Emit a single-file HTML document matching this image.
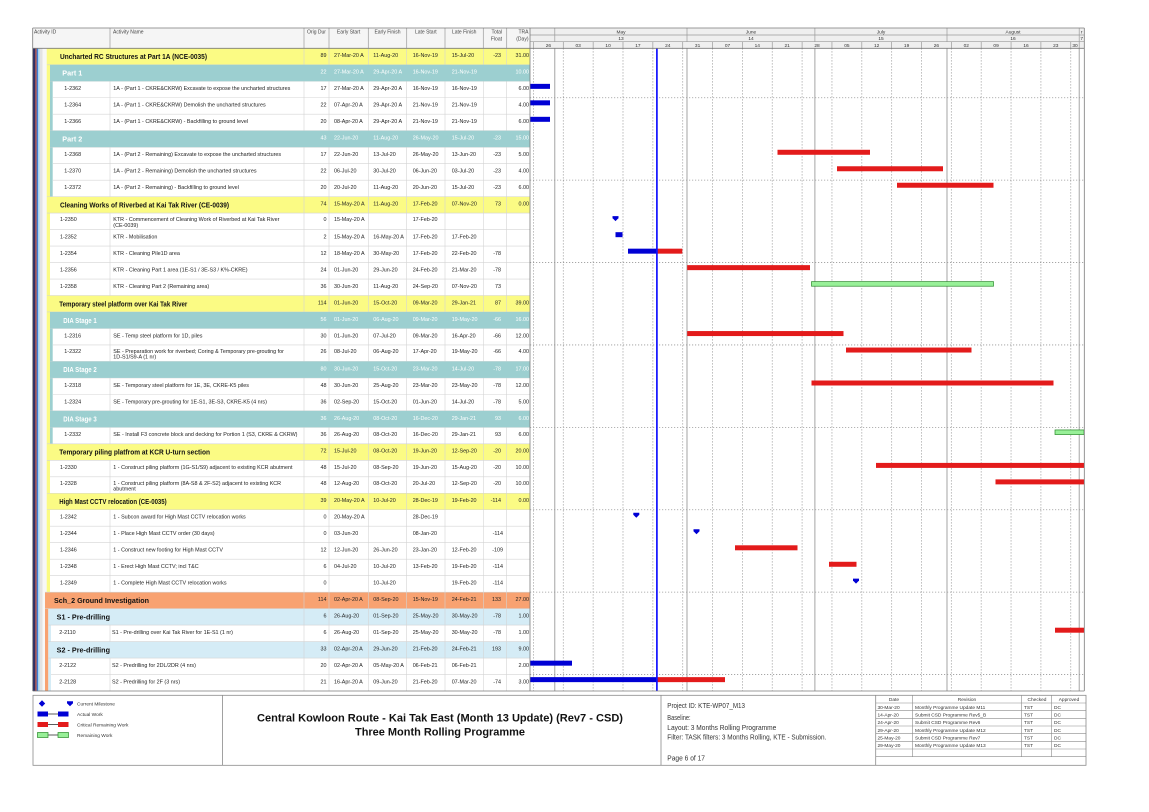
<!DOCTYPE html>
<html><head><meta charset="utf-8"><title>Three Month Rolling Programme</title>
<style>
html,body{margin:0;padding:0;background:#fff;width:1149px;height:812px;overflow:hidden}
svg{display:block}
text{font-family:"Liberation Sans",Arial,sans-serif}
.r{font-size:5.4px;fill:#222}
.e{text-anchor:end}
.c{text-anchor:middle}
.b{font-size:7.2px;font-weight:bold;fill:#111}
.w{fill:#fff}
.h{font-size:5px;fill:#444}
.t{font-size:4.8px;fill:#333}
.f{font-size:7.5px;fill:#333}
.s{font-size:4.8px;fill:#333}
</style></head><body>
<svg width="1149" height="812" viewBox="0 0 1149 812" xmlns="http://www.w3.org/2000/svg">
<rect width="1149" height="812" fill="#fff"/>

<!-- ===== FILLS (non-teal) ===== -->
<g>
<!-- left stripes -->
<rect x="33" y="48.3" width="2.3" height="642.72" fill="#2e2f63"/>
<rect x="35.3" y="48.3" width="1.4" height="642.72" fill="#a13b3b"/>
<rect x="36.7" y="48.3" width="1.4" height="642.72" fill="#3f80d2"/>
<rect x="38.1" y="48.3" width="1.5" height="642.72" fill="#a3d3ef"/>
<rect x="39.6" y="48.3" width="2.9" height="642.72" fill="#e3e3e3"/>
<rect x="42.5" y="48.3" width="4.2" height="642.72" fill="#f7f7f7"/>
<!-- group 1 yellow strip -->
<rect x="46.7" y="48.3" width="3.3" height="543.84" fill="#fbfb84"/>
<!-- yellow rows -->
<rect x="50" y="48.30" width="480" height="16.48" fill="#fbfb84"/>
<rect x="50" y="196.62" width="480" height="16.48" fill="#fbfb84"/>
<rect x="50" y="295.50" width="480" height="16.48" fill="#fbfb84"/>
<rect x="50" y="443.82" width="480" height="16.48" fill="#fbfb84"/>
<rect x="50" y="493.26" width="480" height="16.48" fill="#fbfb84"/>
<!-- teal strips -->
<rect x="50" y="64.78" width="2.7" height="131.84" fill="#9ccfd0"/>
<rect x="50" y="311.98" width="2.7" height="131.84" fill="#9ccfd0"/>
<!-- group 2 -->
<rect x="45" y="592.14" width="485" height="16.48" fill="#f8a271"/>
<rect x="45" y="608.62" width="3.3" height="82.4" fill="#f8a271"/>
<rect x="48.3" y="608.62" width="2.7" height="82.4" fill="#d5ecf6"/>
<rect x="51" y="608.62" width="479" height="16.48" fill="#d5ecf6"/>
<rect x="51" y="641.58" width="479" height="16.48" fill="#d5ecf6"/>
</g>

<!-- ===== TABLE GRID LINES ===== -->
<g stroke="#d4d4d4" stroke-width="0.6">
<line x1="304" y1="48.3" x2="304" y2="691"/>
<line x1="329" y1="48.3" x2="329" y2="691"/>
<line x1="368.3" y1="48.3" x2="368.3" y2="691"/>
<line x1="406.7" y1="48.3" x2="406.7" y2="691"/>
<line x1="445" y1="48.3" x2="445" y2="691"/>
<line x1="483.3" y1="48.3" x2="483.3" y2="691"/>
<line x1="506.7" y1="48.3" x2="506.7" y2="691"/>
<line x1="110" y1="81.26" x2="110" y2="130.70"/>
<line x1="110" y1="147.18" x2="110" y2="196.62"/>
<line x1="110" y1="213.10" x2="110" y2="295.50"/>
<line x1="110" y1="328.46" x2="110" y2="361.42"/>
<line x1="110" y1="377.90" x2="110" y2="410.86"/>
<line x1="110" y1="427.34" x2="110" y2="443.82"/>
<line x1="110" y1="460.30" x2="110" y2="493.26"/>
<line x1="110" y1="509.74" x2="110" y2="592.14"/>
<line x1="110" y1="625.10" x2="110" y2="641.58"/>
<line x1="110" y1="658.06" x2="110" y2="691.02"/>
<line x1="47" y1="64.78" x2="530" y2="64.78"/>
<line x1="50" y1="81.26" x2="530" y2="81.26"/>
<line x1="53" y1="97.74" x2="530" y2="97.74"/>
<line x1="53" y1="114.22" x2="530" y2="114.22"/>
<line x1="50" y1="130.70" x2="530" y2="130.70"/>
<line x1="50" y1="147.18" x2="530" y2="147.18"/>
<line x1="53" y1="163.66" x2="530" y2="163.66"/>
<line x1="53" y1="180.14" x2="530" y2="180.14"/>
<line x1="47" y1="196.62" x2="530" y2="196.62"/>
<line x1="47" y1="213.10" x2="530" y2="213.10"/>
<line x1="50" y1="229.58" x2="530" y2="229.58"/>
<line x1="50" y1="246.06" x2="530" y2="246.06"/>
<line x1="50" y1="262.54" x2="530" y2="262.54"/>
<line x1="50" y1="279.02" x2="530" y2="279.02"/>
<line x1="47" y1="295.50" x2="530" y2="295.50"/>
<line x1="47" y1="311.98" x2="530" y2="311.98"/>
<line x1="50" y1="328.46" x2="530" y2="328.46"/>
<line x1="53" y1="344.94" x2="530" y2="344.94"/>
<line x1="50" y1="361.42" x2="530" y2="361.42"/>
<line x1="50" y1="377.90" x2="530" y2="377.90"/>
<line x1="53" y1="394.38" x2="530" y2="394.38"/>
<line x1="50" y1="410.86" x2="530" y2="410.86"/>
<line x1="50" y1="427.34" x2="530" y2="427.34"/>
<line x1="47" y1="443.82" x2="530" y2="443.82"/>
<line x1="47" y1="460.30" x2="530" y2="460.30"/>
<line x1="50" y1="476.78" x2="530" y2="476.78"/>
<line x1="47" y1="493.26" x2="530" y2="493.26"/>
<line x1="47" y1="509.74" x2="530" y2="509.74"/>
<line x1="50" y1="526.22" x2="530" y2="526.22"/>
<line x1="50" y1="542.70" x2="530" y2="542.70"/>
<line x1="50" y1="559.18" x2="530" y2="559.18"/>
<line x1="50" y1="575.66" x2="530" y2="575.66"/>
<line x1="45" y1="592.14" x2="530" y2="592.14"/>
<line x1="45" y1="608.62" x2="530" y2="608.62"/>
<line x1="48" y1="625.10" x2="530" y2="625.10"/>
<line x1="48" y1="641.58" x2="530" y2="641.58"/>
<line x1="48" y1="658.06" x2="530" y2="658.06"/>
<line x1="51" y1="674.54" x2="530" y2="674.54"/>
</g>

<!-- ===== TEAL ROWS ===== -->
<g fill="#9ccfd0">
<rect x="50" y="64.78" width="480" height="16.48"/>
<rect x="50" y="130.70" width="480" height="16.48"/>
<rect x="50" y="311.98" width="480" height="16.48"/>
<rect x="50" y="361.42" width="480" height="16.48"/>
<rect x="50" y="410.86" width="480" height="16.48"/>
</g>

<!-- ===== HEADER ===== -->
<rect x="33" y="28" width="497" height="20.3" fill="#f5f5f5"/>
<rect x="530" y="28" width="554.3" height="20.3" fill="#efefef"/>
<g stroke="#9a9a9a" stroke-width="0.7">
<line x1="110" y1="28" x2="110" y2="48.3"/>
<line x1="304" y1="28" x2="304" y2="48.3"/>
<line x1="329" y1="28" x2="329" y2="48.3"/>
<line x1="368.3" y1="28" x2="368.3" y2="48.3"/>
<line x1="406.7" y1="28" x2="406.7" y2="48.3"/>
<line x1="445" y1="28" x2="445" y2="48.3"/>
<line x1="483.3" y1="28" x2="483.3" y2="48.3"/>
<line x1="506.7" y1="28" x2="506.7" y2="48.3"/>
<line x1="530" y1="35" x2="1084.3" y2="35"/>
<line x1="530" y1="41.7" x2="1084.3" y2="41.7"/>
<line x1="554.8" y1="28" x2="554.8" y2="41.7"/>
<line x1="687" y1="28" x2="687" y2="41.7"/>
<line x1="814.9" y1="28" x2="814.9" y2="41.7"/>
<line x1="947" y1="28" x2="947" y2="41.7"/>
<line x1="1079.2" y1="28" x2="1079.2" y2="48.3"/>
<line x1="533.45" y1="41.7" x2="533.45" y2="48.3"/>
<line x1="563.3" y1="41.7" x2="563.3" y2="48.3"/>
<line x1="593.15" y1="41.7" x2="593.15" y2="48.3"/>
<line x1="623" y1="41.7" x2="623" y2="48.3"/>
<line x1="652.85" y1="41.7" x2="652.85" y2="48.3"/>
<line x1="682.7" y1="41.7" x2="682.7" y2="48.3"/>
<line x1="712.55" y1="41.7" x2="712.55" y2="48.3"/>
<line x1="742.4" y1="41.7" x2="742.4" y2="48.3"/>
<line x1="772.25" y1="41.7" x2="772.25" y2="48.3"/>
<line x1="802.1" y1="41.7" x2="802.1" y2="48.3"/>
<line x1="831.95" y1="41.7" x2="831.95" y2="48.3"/>
<line x1="861.8" y1="41.7" x2="861.8" y2="48.3"/>
<line x1="891.65" y1="41.7" x2="891.65" y2="48.3"/>
<line x1="921.5" y1="41.7" x2="921.5" y2="48.3"/>
<line x1="951.35" y1="41.7" x2="951.35" y2="48.3"/>
<line x1="981.2" y1="41.7" x2="981.2" y2="48.3"/>
<line x1="1011.05" y1="41.7" x2="1011.05" y2="48.3"/>
<line x1="1040.9" y1="41.7" x2="1040.9" y2="48.3"/>
<line x1="1070.75" y1="41.7" x2="1070.75" y2="48.3"/>
</g>
<g class="h">
<text x="34" y="33.5">Activity ID</text>
<text x="113" y="33.5">Activity Name</text>
<text class="c" x="316.5" y="33.5" text-anchor="middle">Orig Dur</text>
<text x="348.6" y="33.5" text-anchor="middle">Early Start</text>
<text x="387.5" y="33.5" text-anchor="middle">Early Finish</text>
<text x="425.8" y="33.5" text-anchor="middle">Late Start</text>
<text x="464.2" y="33.5" text-anchor="middle">Late Finish</text>
<text x="502" y="33.5" text-anchor="end">Total</text>
<text x="502" y="40.5" text-anchor="end">Float</text>
<text x="528.5" y="33.5" text-anchor="end">TRA</text>
<text x="528.5" y="40.5" text-anchor="end">(Day)</text>
</g>
<g class="t" text-anchor="middle">
<text x="621" y="33.6">May</text>
<text x="751" y="33.6">June</text>
<text x="881" y="33.6">July</text>
<text x="1013" y="33.6">August</text>
<text x="1081.7" y="33.6">r</text>
<text x="621" y="40.2">13</text>
<text x="751" y="40.2">14</text>
<text x="881" y="40.2">15</text>
<text x="1013" y="40.2">16</text>
<text x="1081.7" y="40.2">7</text>
<text x="548.4" y="46.9">26</text>
<text x="578.2" y="46.9">03</text>
<text x="608.1" y="46.9">10</text>
<text x="637.9" y="46.9">17</text>
<text x="667.8" y="46.9">24</text>
<text x="697.6" y="46.9">31</text>
<text x="727.5" y="46.9">07</text>
<text x="757.3" y="46.9">14</text>
<text x="787.2" y="46.9">21</text>
<text x="817" y="46.9">28</text>
<text x="846.9" y="46.9">05</text>
<text x="876.7" y="46.9">12</text>
<text x="906.6" y="46.9">19</text>
<text x="936.4" y="46.9">26</text>
<text x="966.3" y="46.9">02</text>
<text x="996.1" y="46.9">09</text>
<text x="1026" y="46.9">16</text>
<text x="1055.8" y="46.9">23</text>
<text x="1075" y="46.9">30</text>
</g>

<!-- ===== GANTT GRID ===== -->
<g stroke="#9a9a9a" stroke-width="0.8" stroke-dasharray="1.2,1.8">
<line x1="533.45" y1="48.3" x2="533.45" y2="691"/>
<line x1="563.3" y1="48.3" x2="563.3" y2="691"/>
<line x1="593.15" y1="48.3" x2="593.15" y2="691"/>
<line x1="623" y1="48.3" x2="623" y2="691"/>
<line x1="652.85" y1="48.3" x2="652.85" y2="691"/>
<line x1="682.7" y1="48.3" x2="682.7" y2="691"/>
<line x1="712.55" y1="48.3" x2="712.55" y2="691"/>
<line x1="742.4" y1="48.3" x2="742.4" y2="691"/>
<line x1="772.25" y1="48.3" x2="772.25" y2="691"/>
<line x1="802.1" y1="48.3" x2="802.1" y2="691"/>
<line x1="831.95" y1="48.3" x2="831.95" y2="691"/>
<line x1="861.8" y1="48.3" x2="861.8" y2="691"/>
<line x1="891.65" y1="48.3" x2="891.65" y2="691"/>
<line x1="921.5" y1="48.3" x2="921.5" y2="691"/>
<line x1="951.35" y1="48.3" x2="951.35" y2="691"/>
<line x1="981.2" y1="48.3" x2="981.2" y2="691"/>
<line x1="1011.05" y1="48.3" x2="1011.05" y2="691"/>
<line x1="1040.9" y1="48.3" x2="1040.9" y2="691"/>
<line x1="1070.75" y1="48.3" x2="1070.75" y2="691"/>
<line x1="530" y1="97.74" x2="1084" y2="97.74"/>
<line x1="530" y1="180.14" x2="1084" y2="180.14"/>
<line x1="530" y1="262.54" x2="1084" y2="262.54"/>
<line x1="530" y1="344.94" x2="1084" y2="344.94"/>
<line x1="530" y1="427.34" x2="1084" y2="427.34"/>
<line x1="530" y1="509.74" x2="1084" y2="509.74"/>
<line x1="530" y1="592.14" x2="1084" y2="592.14"/>
<line x1="530" y1="674.54" x2="1084" y2="674.54"/>
</g>
<g stroke="#9a9a9a" stroke-width="0.9">
<line x1="554.8" y1="48.3" x2="554.8" y2="691"/>
<line x1="687" y1="48.3" x2="687" y2="691"/>
<line x1="814.9" y1="48.3" x2="814.9" y2="691"/>
<line x1="947" y1="48.3" x2="947" y2="691"/>
<line x1="1079.2" y1="48.3" x2="1079.2" y2="691"/>
</g>

<!-- ===== BARS ===== -->
<g fill="#0000d4">
<rect x="530" y="83.86" width="20" height="5"/>
<rect x="530" y="100.34" width="20" height="5"/>
<rect x="530" y="116.82" width="20" height="5"/>
<rect x="615.5" y="232.18" width="7" height="5"/>
<rect x="628" y="248.66" width="28.9" height="5"/>
<rect x="530" y="660.66" width="42" height="5"/>
<rect x="530" y="677.14" width="126.9" height="5"/>
<path d="M612.5,216.1h6v2l-3,3l-3,-3z"/>
<path d="M633.3,512.74h6v2l-3,3l-3,-3z"/>
<path d="M693.5,529.22h6v2l-3,3l-3,-3z"/>
<path d="M853,578.66h6v2l-3,3l-3,-3z"/>
</g>
<g fill="#e31b1b">
<rect x="777.5" y="149.78" width="92.5" height="5"/>
<rect x="837" y="166.26" width="106" height="5"/>
<rect x="897" y="182.74" width="96.5" height="5"/>
<rect x="656.9" y="248.66" width="25.4" height="5"/>
<rect x="687.2" y="265.14" width="122.8" height="5"/>
<rect x="687.2" y="331.06" width="156.3" height="5"/>
<rect x="846" y="347.54" width="125.5" height="5"/>
<rect x="811.5" y="380.5" width="242" height="5"/>
<rect x="876" y="462.9" width="208" height="5"/>
<rect x="995.5" y="479.38" width="88.5" height="5"/>
<rect x="735" y="545.3" width="62.5" height="5"/>
<rect x="829" y="561.78" width="27.5" height="5"/>
<rect x="1055" y="627.7" width="29" height="5"/>
<rect x="656.9" y="677.14" width="68.1" height="5"/>
</g>
<g fill="#98f098" stroke="#2a8a2a" stroke-width="0.7">
<rect x="811.5" y="281.62" width="182" height="4.6"/>
<rect x="1055" y="429.94" width="29" height="4.6"/>
</g>
<line x1="656.9" y1="48.3" x2="656.9" y2="691" stroke="#1010ff" stroke-width="1.7"/>

<!-- ===== BORDERS ===== -->
<g stroke="#7a7a7a" stroke-width="0.8" fill="none">
<line x1="32.7" y1="28" x2="1084.3" y2="28"/>
<line x1="32.7" y1="48.3" x2="1084.3" y2="48.3"/>
<line x1="32.7" y1="691" x2="1084.3" y2="691"/>
<line x1="32.7" y1="28" x2="32.7" y2="691"/>
<line x1="530" y1="28" x2="530" y2="691"/>
<line x1="1084.3" y1="28" x2="1084.3" y2="691"/>
</g>

<!-- ===== TEXT ===== -->
<g class="r">
<!-- row 0 -->
<text class="b" x="60" y="59.1" textLength="147" lengthAdjust="spacingAndGlyphs">Uncharted RC Structures at Part 1A (NCE-0035)</text>
<text x="326.5" y="57.2" text-anchor="end">89</text><text x="334" y="57.2">27-Mar-20 A</text><text x="373.3" y="57.2">11-Aug-20</text><text x="412.7" y="57.2">16-Nov-19</text><text x="451.7" y="57.2">15-Jul-20</text><text x="501" y="57.2" text-anchor="end">-23</text><text x="529" y="57.2" text-anchor="end">31.00</text>
<!-- row 1 teal -->
<g class="w">
<text class="b w" x="62.3" y="75.58">Part 1</text>
<text x="326.5" y="73.68" text-anchor="end">22</text><text x="334" y="73.68">27-Mar-20 A</text><text x="373.3" y="73.68">29-Apr-20 A</text><text x="412.7" y="73.68">16-Nov-19</text><text x="451.7" y="73.68">21-Nov-19</text><text x="529" y="73.68" text-anchor="end">10.00</text>
</g>
<!-- row 2 -->
<text x="64.3" y="90.16">1-2362</text><text x="113.3" y="90.16">1A - (Part 1 - CKRE&amp;CKRW) Excavate to expose the uncharted structures</text><text x="326.5" y="90.16" text-anchor="end">17</text><text x="334" y="90.16">27-Mar-20 A</text><text x="373.3" y="90.16">29-Apr-20 A</text><text x="412.7" y="90.16">16-Nov-19</text><text x="451.7" y="90.16">16-Nov-19</text><text x="529" y="90.16" text-anchor="end">6.00</text>
<!-- row 3 -->
<text x="64.3" y="106.64">1-2364</text><text x="113.3" y="106.64">1A - (Part 1 - CKRE&amp;CKRW) Demolish the uncharted structures</text><text x="326.5" y="106.64" text-anchor="end">22</text><text x="334" y="106.64">07-Apr-20 A</text><text x="373.3" y="106.64">29-Apr-20 A</text><text x="412.7" y="106.64">21-Nov-19</text><text x="451.7" y="106.64">21-Nov-19</text><text x="529" y="106.64" text-anchor="end">4.00</text>
<!-- row 4 -->
<text x="64.3" y="123.12">1-2366</text><text x="113.3" y="123.12">1A - (Part 1 - CKRE&amp;CKRW) - Backfilling to ground level</text><text x="326.5" y="123.12" text-anchor="end">20</text><text x="334" y="123.12">08-Apr-20 A</text><text x="373.3" y="123.12">29-Apr-20 A</text><text x="412.7" y="123.12">21-Nov-19</text><text x="451.7" y="123.12">21-Nov-19</text><text x="529" y="123.12" text-anchor="end">6.00</text>
<!-- row 5 teal -->
<g class="w">
<text class="b w" x="62.3" y="141.5">Part 2</text>
<text x="326.5" y="139.6" text-anchor="end">43</text><text x="334" y="139.6">22-Jun-20</text><text x="373.3" y="139.6">11-Aug-20</text><text x="412.7" y="139.6">26-May-20</text><text x="451.7" y="139.6">15-Jul-20</text><text x="501" y="139.6" text-anchor="end">-23</text><text x="529" y="139.6" text-anchor="end">15.00</text>
</g>
<!-- row 6 -->
<text x="64.3" y="156.08">1-2368</text><text x="113.3" y="156.08">1A - (Part 2 - Remaining) Excavate to expose the uncharted structures</text><text x="326.5" y="156.08" text-anchor="end">17</text><text x="334" y="156.08">22-Jun-20</text><text x="373.3" y="156.08">13-Jul-20</text><text x="412.7" y="156.08">26-May-20</text><text x="451.7" y="156.08">13-Jun-20</text><text x="501" y="156.08" text-anchor="end">-23</text><text x="529" y="156.08" text-anchor="end">5.00</text>
<!-- row 7 -->
<text x="64.3" y="172.56">1-2370</text><text x="113.3" y="172.56">1A - (Part 2 - Remaining) Demolish the uncharted structures</text><text x="326.5" y="172.56" text-anchor="end">22</text><text x="334" y="172.56">06-Jul-20</text><text x="373.3" y="172.56">30-Jul-20</text><text x="412.7" y="172.56">06-Jun-20</text><text x="451.7" y="172.56">03-Jul-20</text><text x="501" y="172.56" text-anchor="end">-23</text><text x="529" y="172.56" text-anchor="end">4.00</text>
<!-- row 8 -->
<text x="64.3" y="189.04">1-2372</text><text x="113.3" y="189.04">1A - (Part 2 - Remaining) - Backfilling to ground level</text><text x="326.5" y="189.04" text-anchor="end">20</text><text x="334" y="189.04">20-Jul-20</text><text x="373.3" y="189.04">11-Aug-20</text><text x="412.7" y="189.04">20-Jun-20</text><text x="451.7" y="189.04">15-Jul-20</text><text x="501" y="189.04" text-anchor="end">-23</text><text x="529" y="189.04" text-anchor="end">6.00</text>
<!-- row 9 -->
<text class="b" x="60" y="207.42" textLength="169" lengthAdjust="spacingAndGlyphs">Cleaning Works of Riverbed at Kai Tak River (CE-0039)</text>
<text x="326.5" y="205.52" text-anchor="end">74</text><text x="334" y="205.52">15-May-20 A</text><text x="373.3" y="205.52">11-Aug-20</text><text x="412.7" y="205.52">17-Feb-20</text><text x="451.7" y="205.52">07-Nov-20</text><text x="501" y="205.52" text-anchor="end">73</text><text x="529" y="205.52" text-anchor="end">0.00</text>
<!-- row 10 -->
<text x="60" y="221.1">1-2350</text><text x="113.3" y="221.1">KTR - Commencement of Cleaning Work of Riverbed at Kai Tak River</text><text x="113.3" y="226.9">(CE-0039)</text><text x="326.5" y="221.1" text-anchor="end">0</text><text x="334" y="221.1">15-May-20 A</text><text x="412.7" y="221.1">17-Feb-20</text>
<!-- row 11 -->
<text x="60" y="238.48">1-2352</text><text x="113.3" y="238.48">KTR - Mobilisation</text><text x="326.5" y="238.48" text-anchor="end">2</text><text x="334" y="238.48">15-May-20 A</text><text x="373.3" y="238.48">16-May-20 A</text><text x="412.7" y="238.48">17-Feb-20</text><text x="451.7" y="238.48">17-Feb-20</text>
<!-- row 12 -->
<text x="60" y="254.96">1-2354</text><text x="113.3" y="254.96">KTR - Cleaning Pile1D area</text><text x="326.5" y="254.96" text-anchor="end">12</text><text x="334" y="254.96">18-May-20 A</text><text x="373.3" y="254.96">30-May-20</text><text x="412.7" y="254.96">17-Feb-20</text><text x="451.7" y="254.96">22-Feb-20</text><text x="501" y="254.96" text-anchor="end">-78</text>
<!-- row 13 -->
<text x="60" y="271.44">1-2356</text><text x="113.3" y="271.44">KTR - Cleaning Part 1 area (1E-S1 / 3E-S3 / K%-CKRE)</text><text x="326.5" y="271.44" text-anchor="end">24</text><text x="334" y="271.44">01-Jun-20</text><text x="373.3" y="271.44">29-Jun-20</text><text x="412.7" y="271.44">24-Feb-20</text><text x="451.7" y="271.44">21-Mar-20</text><text x="501" y="271.44" text-anchor="end">-78</text>
<!-- row 14 -->
<text x="60" y="287.92">1-2358</text><text x="113.3" y="287.92">KTR - Cleaning Part 2 (Remaining area)</text><text x="326.5" y="287.92" text-anchor="end">36</text><text x="334" y="287.92">30-Jun-20</text><text x="373.3" y="287.92">11-Aug-20</text><text x="412.7" y="287.92">24-Sep-20</text><text x="451.7" y="287.92">07-Nov-20</text><text x="501" y="287.92" text-anchor="end">73</text>
<!-- row 15 -->
<text class="b" x="59.3" y="306.3" textLength="128" lengthAdjust="spacingAndGlyphs">Temporary steel platform over Kai Tak River</text>
<text x="326.5" y="304.4" text-anchor="end">114</text><text x="334" y="304.4">01-Jun-20</text><text x="373.3" y="304.4">15-Oct-20</text><text x="412.7" y="304.4">09-Mar-20</text><text x="451.7" y="304.4">29-Jan-21</text><text x="501" y="304.4" text-anchor="end">87</text><text x="529" y="304.4" text-anchor="end">39.00</text>
<!-- row 16 teal -->
<g class="w">
<text class="b w" x="63.3" y="322.78" textLength="33.4" lengthAdjust="spacingAndGlyphs">DIA Stage 1</text>
<text x="326.5" y="320.88" text-anchor="end">56</text><text x="334" y="320.88">01-Jun-20</text><text x="373.3" y="320.88">06-Aug-20</text><text x="412.7" y="320.88">09-Mar-20</text><text x="451.7" y="320.88">19-May-20</text><text x="501" y="320.88" text-anchor="end">-66</text><text x="529" y="320.88" text-anchor="end">16.00</text>
</g>
<!-- row 17 -->
<text x="64.3" y="337.36">1-2316</text><text x="113.3" y="337.36">SE - Temp steel platform for 1D, piles</text><text x="326.5" y="337.36" text-anchor="end">30</text><text x="334" y="337.36">01-Jun-20</text><text x="373.3" y="337.36">07-Jul-20</text><text x="412.7" y="337.36">09-Mar-20</text><text x="451.7" y="337.36">16-Apr-20</text><text x="501" y="337.36" text-anchor="end">-66</text><text x="529" y="337.36" text-anchor="end">12.00</text>
<!-- row 18 -->
<text x="64.3" y="352.94">1-2322</text><text x="113.3" y="352.94">SE - Preparation work for riverbed; Coring &amp; Temporary pre-grouting for</text><text x="113.3" y="358.74">1D-S1/S9-A (1 nr)</text><text x="326.5" y="352.94" text-anchor="end">26</text><text x="334" y="352.94">08-Jul-20</text><text x="373.3" y="352.94">06-Aug-20</text><text x="412.7" y="352.94">17-Apr-20</text><text x="451.7" y="352.94">19-May-20</text><text x="501" y="352.94" text-anchor="end">-66</text><text x="529" y="352.94" text-anchor="end">4.00</text>
<!-- row 19 teal -->
<g class="w">
<text class="b w" x="63.3" y="372.22" textLength="33.4" lengthAdjust="spacingAndGlyphs">DIA Stage 2</text>
<text x="326.5" y="370.32" text-anchor="end">80</text><text x="334" y="370.32">30-Jun-20</text><text x="373.3" y="370.32">15-Oct-20</text><text x="412.7" y="370.32">23-Mar-20</text><text x="451.7" y="370.32">14-Jul-20</text><text x="501" y="370.32" text-anchor="end">-78</text><text x="529" y="370.32" text-anchor="end">17.00</text>
</g>
<!-- row 20 -->
<text x="64.3" y="386.8">1-2318</text><text x="113.3" y="386.8">SE - Temporary steel platform for 1E, 3E, CKRE-K5 piles</text><text x="326.5" y="386.8" text-anchor="end">48</text><text x="334" y="386.8">30-Jun-20</text><text x="373.3" y="386.8">25-Aug-20</text><text x="412.7" y="386.8">23-Mar-20</text><text x="451.7" y="386.8">23-May-20</text><text x="501" y="386.8" text-anchor="end">-78</text><text x="529" y="386.8" text-anchor="end">12.00</text>
<!-- row 21 -->
<text x="64.3" y="403.28">1-2324</text><text x="113.3" y="403.28">SE - Temporary pre-grouting for 1E-S1, 3E-S3, CKRE-K5 (4 nrs)</text><text x="326.5" y="403.28" text-anchor="end">36</text><text x="334" y="403.28">02-Sep-20</text><text x="373.3" y="403.28">15-Oct-20</text><text x="412.7" y="403.28">01-Jun-20</text><text x="451.7" y="403.28">14-Jul-20</text><text x="501" y="403.28" text-anchor="end">-78</text><text x="529" y="403.28" text-anchor="end">5.00</text>
<!-- row 22 teal -->
<g class="w">
<text class="b w" x="63.3" y="421.66" textLength="33.4" lengthAdjust="spacingAndGlyphs">DIA Stage 3</text>
<text x="326.5" y="419.76" text-anchor="end">36</text><text x="334" y="419.76">26-Aug-20</text><text x="373.3" y="419.76">08-Oct-20</text><text x="412.7" y="419.76">16-Dec-20</text><text x="451.7" y="419.76">29-Jan-21</text><text x="501" y="419.76" text-anchor="end">93</text><text x="529" y="419.76" text-anchor="end">6.00</text>
</g>
<!-- row 23 -->
<text x="64.3" y="436.24">1-2332</text><text x="113.3" y="436.24">SE - Install F3 concrete block and decking for Portion 1 (S3, CKRE &amp; CKRW)</text><text x="326.5" y="436.24" text-anchor="end">36</text><text x="334" y="436.24">26-Aug-20</text><text x="373.3" y="436.24">08-Oct-20</text><text x="412.7" y="436.24">16-Dec-20</text><text x="451.7" y="436.24">29-Jan-21</text><text x="501" y="436.24" text-anchor="end">93</text><text x="529" y="436.24" text-anchor="end">6.00</text>
<!-- row 24 -->
<text class="b" x="59.3" y="454.62" textLength="150.7" lengthAdjust="spacingAndGlyphs">Temporary piling platfrom at KCR U-turn section</text>
<text x="326.5" y="452.72" text-anchor="end">72</text><text x="334" y="452.72">15-Jul-20</text><text x="373.3" y="452.72">08-Oct-20</text><text x="412.7" y="452.72">19-Jun-20</text><text x="451.7" y="452.72">12-Sep-20</text><text x="501" y="452.72" text-anchor="end">-20</text><text x="529" y="452.72" text-anchor="end">20.00</text>
<!-- row 25 -->
<text x="60" y="469.2">1-2330</text><text x="113.3" y="469.2">1 - Construct piling platform (1G-S1/S9) adjacent to existing KCR abutment</text><text x="326.5" y="469.2" text-anchor="end">48</text><text x="334" y="469.2">15-Jul-20</text><text x="373.3" y="469.2">08-Sep-20</text><text x="412.7" y="469.2">19-Jun-20</text><text x="451.7" y="469.2">15-Aug-20</text><text x="501" y="469.2" text-anchor="end">-20</text><text x="529" y="469.2" text-anchor="end">10.00</text>
<!-- row 26 -->
<text x="60" y="484.78">1-2328</text><text x="113.3" y="484.78">1 - Construct piling platform (8A-S8 &amp; 2F-S2) adjacent to existing KCR</text><text x="113.3" y="490.58">abutment</text><text x="326.5" y="484.78" text-anchor="end">48</text><text x="334" y="484.78">12-Aug-20</text><text x="373.3" y="484.78">08-Oct-20</text><text x="412.7" y="484.78">20-Jul-20</text><text x="451.7" y="484.78">12-Sep-20</text><text x="501" y="484.78" text-anchor="end">-20</text><text x="529" y="484.78" text-anchor="end">10.00</text>
<!-- row 27 -->
<text class="b" x="59.3" y="504.06" textLength="107.4" lengthAdjust="spacingAndGlyphs">High Mast CCTV relocation (CE-0035)</text>
<text x="326.5" y="502.16" text-anchor="end">39</text><text x="334" y="502.16">20-May-20 A</text><text x="373.3" y="502.16">10-Jul-20</text><text x="412.7" y="502.16">28-Dec-19</text><text x="451.7" y="502.16">19-Feb-20</text><text x="501" y="502.16" text-anchor="end">-114</text><text x="529" y="502.16" text-anchor="end">0.00</text>
<!-- row 28 -->
<text x="60" y="518.64">1-2342</text><text x="113.3" y="518.64">1 - Subcon award for High Mast CCTV relocation works</text><text x="326.5" y="518.64" text-anchor="end">0</text><text x="334" y="518.64">20-May-20 A</text><text x="412.7" y="518.64">28-Dec-19</text>
<!-- row 29 -->
<text x="60" y="535.12">1-2344</text><text x="113.3" y="535.12">1 - Place High Mast CCTV order (30 days)</text><text x="326.5" y="535.12" text-anchor="end">0</text><text x="334" y="535.12">03-Jun-20</text><text x="412.7" y="535.12">08-Jan-20</text><text x="503" y="535.12" text-anchor="end">-114</text>
<!-- row 30 -->
<text x="60" y="551.6">1-2346</text><text x="113.3" y="551.6">1 - Construct new footing for High Mast CCTV</text><text x="326.5" y="551.6" text-anchor="end">12</text><text x="334" y="551.6">12-Jun-20</text><text x="373.3" y="551.6">26-Jun-20</text><text x="412.7" y="551.6">23-Jan-20</text><text x="451.7" y="551.6">12-Feb-20</text><text x="503" y="551.6" text-anchor="end">-109</text>
<!-- row 31 -->
<text x="60" y="568.08">1-2348</text><text x="113.3" y="568.08">1 - Erect High Mast CCTV; incl T&amp;C</text><text x="326.5" y="568.08" text-anchor="end">6</text><text x="334" y="568.08">04-Jul-20</text><text x="373.3" y="568.08">10-Jul-20</text><text x="412.7" y="568.08">13-Feb-20</text><text x="451.7" y="568.08">19-Feb-20</text><text x="503" y="568.08" text-anchor="end">-114</text>
<!-- row 32 -->
<text x="60" y="584.56">1-2349</text><text x="113.3" y="584.56">1 - Complete High Mast CCTV relocation works</text><text x="326.5" y="584.56" text-anchor="end">0</text><text x="373.3" y="584.56">10-Jul-20</text><text x="451.7" y="584.56">19-Feb-20</text><text x="503" y="584.56" text-anchor="end">-114</text>
<!-- row 33 -->
<text class="b" x="54" y="602.94" textLength="95" lengthAdjust="spacingAndGlyphs">Sch_2 Ground Investigation</text>
<text x="326.5" y="601.04" text-anchor="end">114</text><text x="334" y="601.04">02-Apr-20 A</text><text x="373.3" y="601.04">08-Sep-20</text><text x="412.7" y="601.04">15-Nov-19</text><text x="451.7" y="601.04">24-Feb-21</text><text x="501" y="601.04" text-anchor="end">133</text><text x="529" y="601.04" text-anchor="end">27.00</text>
<!-- row 34 -->
<text class="b" x="56.7" y="619.42" textLength="53.3" lengthAdjust="spacingAndGlyphs">S1 - Pre-drilling</text>
<text x="326.5" y="617.52" text-anchor="end">6</text><text x="334" y="617.52">26-Aug-20</text><text x="373.3" y="617.52">01-Sep-20</text><text x="412.7" y="617.52">25-May-20</text><text x="451.7" y="617.52">30-May-20</text><text x="501" y="617.52" text-anchor="end">-78</text><text x="529" y="617.52" text-anchor="end">1.00</text>
<!-- row 35 -->
<text x="59.3" y="634">2-2110</text><text x="112" y="634">S1 - Pre-drilling over Kai Tak River for 1E-S1 (1 nr)</text><text x="326.5" y="634" text-anchor="end">6</text><text x="334" y="634">26-Aug-20</text><text x="373.3" y="634">01-Sep-20</text><text x="412.7" y="634">25-May-20</text><text x="451.7" y="634">30-May-20</text><text x="501" y="634" text-anchor="end">-78</text><text x="529" y="634" text-anchor="end">1.00</text>
<!-- row 36 -->
<text class="b" x="56.7" y="652.38" textLength="53.3" lengthAdjust="spacingAndGlyphs">S2 - Pre-drilling</text>
<text x="326.5" y="650.48" text-anchor="end">33</text><text x="334" y="650.48">02-Apr-20 A</text><text x="373.3" y="650.48">29-Jun-20</text><text x="412.7" y="650.48">21-Feb-20</text><text x="451.7" y="650.48">24-Feb-21</text><text x="501" y="650.48" text-anchor="end">193</text><text x="529" y="650.48" text-anchor="end">9.00</text>
<!-- row 37 -->
<text x="59.3" y="666.96">2-2122</text><text x="112" y="666.96">S2 - Predrilling for 2DL/2DR (4 nrs)</text><text x="326.5" y="666.96" text-anchor="end">20</text><text x="334" y="666.96">02-Apr-20 A</text><text x="373.3" y="666.96">05-May-20 A</text><text x="412.7" y="666.96">06-Feb-21</text><text x="451.7" y="666.96">06-Feb-21</text><text x="529" y="666.96" text-anchor="end">2.00</text>
<!-- row 38 -->
<text x="59.3" y="683.44">2-2128</text><text x="112" y="683.44">S2 - Predrilling for 2F (3 nrs)</text><text x="326.5" y="683.44" text-anchor="end">21</text><text x="334" y="683.44">16-Apr-20 A</text><text x="373.3" y="683.44">09-Jun-20</text><text x="412.7" y="683.44">21-Feb-20</text><text x="451.7" y="683.44">07-Mar-20</text><text x="501" y="683.44" text-anchor="end">-74</text><text x="529" y="683.44" text-anchor="end">3.00</text>
</g>

<!-- ===== FOOTER ===== -->
<g stroke="#8a8a8a" stroke-width="0.8" fill="none">
<rect x="33" y="695.3" width="1053" height="70"/>
<line x1="222.5" y1="695.3" x2="222.5" y2="765.3"/>
<line x1="661" y1="695.3" x2="661" y2="765.3"/>
<line x1="875.7" y1="695.3" x2="875.7" y2="765.3"/>
</g>
<g stroke="#8a8a8a" stroke-width="0.6">
<line x1="875.7" y1="703" x2="1086" y2="703"/>
<line x1="875.7" y1="710.67" x2="1086" y2="710.67"/>
<line x1="875.7" y1="718.33" x2="1086" y2="718.33"/>
<line x1="875.7" y1="726" x2="1086" y2="726"/>
<line x1="875.7" y1="733.67" x2="1086" y2="733.67"/>
<line x1="875.7" y1="741.33" x2="1086" y2="741.33"/>
<line x1="875.7" y1="749" x2="1086" y2="749"/>
<line x1="875.7" y1="756.7" x2="1086" y2="756.7"/>
<line x1="912.7" y1="695.3" x2="912.7" y2="756.7"/>
<line x1="1021.7" y1="695.3" x2="1021.7" y2="756.7"/>
<line x1="1051.7" y1="695.3" x2="1051.7" y2="756.7"/>
</g>
<g class="s">
<text x="894" y="701" text-anchor="middle">Date</text>
<text x="967" y="701" text-anchor="middle">Revision</text>
<text x="1037" y="701" text-anchor="middle">Checked</text>
<text x="1069" y="701" text-anchor="middle">Approved</text>
<text x="877.5" y="708.8">30-Mar-20</text><text x="915" y="708.8">Monthly Programme Update M11</text><text x="1024" y="708.8">TST</text><text x="1054" y="708.8">DC</text>
<text x="877.5" y="716.5">14-Apr-20</text><text x="915" y="716.5">Submit CSD Programme Rev5_B</text><text x="1024" y="716.5">TST</text><text x="1054" y="716.5">DC</text>
<text x="877.5" y="724.1">24-Apr-20</text><text x="915" y="724.1">Submit CSD Programme Rev6</text><text x="1024" y="724.1">TST</text><text x="1054" y="724.1">DC</text>
<text x="877.5" y="731.8">29-Apr-20</text><text x="915" y="731.8">Monthly Programme Update M12</text><text x="1024" y="731.8">TST</text><text x="1054" y="731.8">DC</text>
<text x="877.5" y="739.5">25-May-20</text><text x="915" y="739.5">Submit CSD Programme Rev7</text><text x="1024" y="739.5">TST</text><text x="1054" y="739.5">DC</text>
<text x="877.5" y="747.1">29-May-20</text><text x="915" y="747.1">Monthly Programme Update M13</text><text x="1024" y="747.1">TST</text><text x="1054" y="747.1">DC</text>
</g>

<!-- legend -->
<path d="M42,700.3l3.2,3.2l-3.2,3.2l-3.2,-3.2z" fill="#0000d4"/>
<path d="M67,701.3h6v2l-3,3l-3,-3z" fill="#0000d4"/>
<g stroke="#333" stroke-width="0.8">
<line x1="48" y1="714" x2="58" y2="714"/>
<line x1="48" y1="724.5" x2="58" y2="724.5"/>
<line x1="48" y1="735" x2="58" y2="735"/>
</g>
<rect x="37.5" y="711.5" width="10.5" height="5" fill="#0000d4"/>
<rect x="58" y="711.5" width="10.5" height="5" fill="#0000d4"/>
<rect x="37.5" y="722" width="10.5" height="5" fill="#e31b1b"/>
<rect x="58" y="722" width="10.5" height="5" fill="#e31b1b"/>
<rect x="37.5" y="732.5" width="10.5" height="5" fill="#98f098" stroke="#2a8a2a" stroke-width="0.7"/>
<rect x="58" y="732.5" width="10.5" height="5" fill="#98f098" stroke="#2a8a2a" stroke-width="0.7"/>
<g class="s">
<text x="77" y="705.3">Current Milestone</text>
<text x="77" y="715.8">Actual Work</text>
<text x="77" y="726.3">Critical Remaining Work</text>
<text x="77" y="736.8">Remaining Work</text>
</g>

<!-- title -->
<text x="440" y="721.3" text-anchor="middle" font-size="11" font-weight="bold" fill="#111" textLength="366" lengthAdjust="spacingAndGlyphs">Central Kowloon Route - Kai Tak East (Month 13 Update) (Rev7 - CSD)</text>
<text x="440" y="735.3" text-anchor="middle" font-size="11" font-weight="bold" fill="#111" textLength="170" lengthAdjust="spacingAndGlyphs">Three Month Rolling Programme</text>

<!-- project info -->
<g class="f">
<text x="667.3" y="708" textLength="77.7" lengthAdjust="spacingAndGlyphs">Project ID: KTE-WP07_M13</text>
<text x="667.3" y="720" textLength="23.3" lengthAdjust="spacingAndGlyphs">Baseline:</text>
<text x="667.3" y="730" textLength="109" lengthAdjust="spacingAndGlyphs">Layout: 3 Months Rolling Programme</text>
<text x="667.3" y="739.5" textLength="159" lengthAdjust="spacingAndGlyphs">Filter: TASK filters: 3 Months Rolling, KTE - Submission.</text>
<text x="667.3" y="760.5" textLength="37.7" lengthAdjust="spacingAndGlyphs">Page 6 of 17</text>
</g>
</svg>
</body></html>
